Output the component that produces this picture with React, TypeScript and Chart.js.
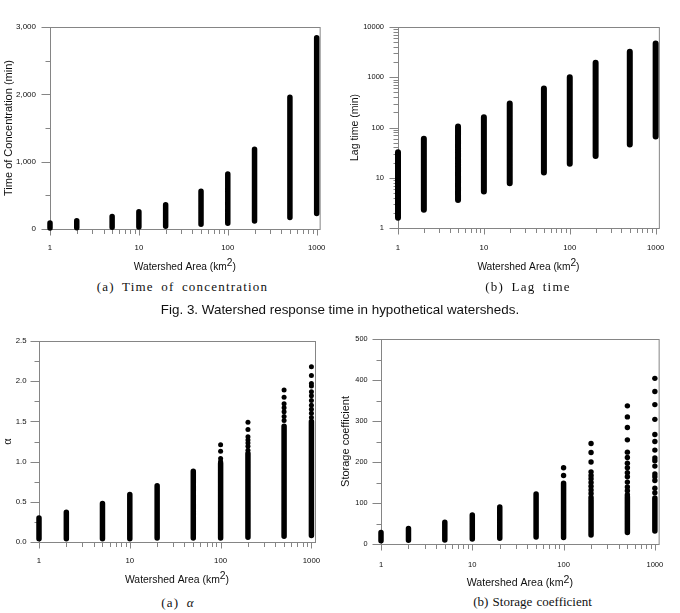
import React, { useEffect, useRef } from "react";
import { Chart, registerables } from "chart.js";

Chart.register(...registerables);

// Watershed areas (km²) of the hypothetical watersheds
const AREAS = [1, 2, 5, 10, 20, 50, 100, 200, 500, 1000];

// Log-scale tick marks on the area axis and the labelled subset
const AREA_TICKS = [1, 2, 3, 4, 5, 6, 7, 8, 9, 10, 20, 30, 40, 50, 60, 70, 80, 90, 100, 200, 300, 400, 500, 600, 700, 800, 900, 1000];
const AREA_LABELLED = [1, 10, 100, 1000];
const AREA_LABELS = ["1", "10", "100", "1000"];

// Time of concentration (min): lowest / highest value per area
const TC_LOW = [15, 20, 25, 30, 40, 70, 85, 120, 170, 230];
const TC_HIGH = [88, 122, 186, 255, 360, 560, 815, 1185, 1955, 2840];
const TC_TICKS = [0, 500, 1000, 1500, 2000, 2500, 3000];
const TC_LABELLED = [0, 1000, 2000, 3000];
const TC_LABELS = ["0", "1,000", "2,000", "3,000"];

// Lag time (min)
const LAG_LOW = [1.6, 2.3, 3.6, 5.3, 7.8, 12.7, 19, 27, 46, 66];
const LAG_HIGH = [32, 60, 105, 160, 300, 600, 1000, 1950, 3200, 4700];
const LAG_TICKS = [1, 2, 3, 4, 5, 6, 7, 8, 9, 10, 20, 30, 40, 50, 60, 70, 80, 90, 100, 200, 300, 400, 500, 600, 700, 800, 900, 1000, 2000, 3000, 4000, 5000, 6000, 7000, 8000, 9000, 10000];
const LAG_LABELLED = [1, 10, 100, 1000, 10000];
const LAG_LABELS = ["1", "10", "100", "1000", "10000"];

// α: dense band per area plus the scattered highest values
const ALPHA_LOW = [0.04, 0.04, 0.04, 0.04, 0.05, 0.05, 0.05, 0.06, 0.07, 0.08];
const ALPHA_HIGH = [0.3, 0.37, 0.48, 0.59, 0.7, 0.88, 0.98, 1.1, 1.44, 1.5];
const ALPHA_UPPER = [
  [], [], [], [], [], [],
  [1.21, 1.13, 1.04, 1.0],
  [1.49, 1.4, 1.31, 1.27, 1.23, 1.19, 1.14],
  [1.89, 1.8, 1.72, 1.67, 1.62, 1.56, 1.51],
  [2.18, 2.07, 1.97, 1.94, 1.87, 1.82, 1.76, 1.7, 1.65, 1.6, 1.55],
];
const ALPHA_TICKS = [0, 0.25, 0.5, 0.75, 1, 1.25, 1.5, 1.75, 2, 2.25, 2.5];
const ALPHA_LABELLED = [0, 0.5, 1, 1.5, 2, 2.5];
const ALPHA_LABELS = ["0.0", "0.5", "1.0", "1.5", "2.0", "2.5"];

// Storage coefficient
const STORAGE_LOW = [8, 9, 10, 12, 14, 17, 16, 22, 28, 32];
const STORAGE_HIGH = [28, 38, 53, 71, 90, 122, 148, 108, 115, 112];
const STORAGE_UPPER = [
  [], [], [], [], [], [],
  [186, 167],
  [245, 223, 200, 176, 167, 159, 150, 141, 132, 123, 114],
  [337, 310, 284, 254, 224, 211, 197, 186, 174, 164, 151, 139, 130, 120],
  [404, 372, 340, 304, 267, 250, 229, 210, 203, 190, 171, 164, 155, 136, 125],
];
const STORAGE_TICKS = [0, 50, 100, 150, 200, 250, 300, 350, 400, 450, 500];
const STORAGE_LABELLED = [0, 100, 200, 300, 400, 500];
const STORAGE_LABELS = ["0", "100", "200", "300", "400", "500"];

const X_TITLE = "Watershed Area (km";
const X_TITLE_SUP = "2";
const X_TITLE_END = ")";

const INK = "#000000";
const AXIS = "#858585";
const LABEL = "#0f0f0f";
const SANS = '"Liberation Sans", Arial, Helvetica, sans-serif';
const SERIF = '"Liberation Serif", "Times New Roman", serif';

type Area = { left: number; top: number; right: number; bottom: number };
type Panel = {
  id: string;
  left: number; top: number; width: number; height: number;
  area: Area;
  yType: "linear" | "logarithmic";
  yMin: number; yMax: number; xMax: number;
  yTicks: number[]; yLabelled: number[]; yLabels: string[];
  yTitle: string; yTitleFont: string; yTitleX: number;
  xTitleY: number; xTitleSize: number;
  yLabelPad: number; xLabelPad: number; yTickSize: number; xTickSize: number;
  low: number[]; high: number[]; upper: number[][] | null;
  bandWidth: number; dotRadius: number;
};

const PANELS: Panel[] = [
  {
    id: "tc", left: 0, top: 0, width: 340, height: 278,
    area: { left: 50, top: 27, right: 326, bottom: 229 },
    yType: "linear", yMin: 0, yMax: 3000, xMax: 1080,
    yTicks: TC_TICKS, yLabelled: TC_LABELLED, yLabels: TC_LABELS,
    yTitle: "Time of Concentration (min)", yTitleFont: `11px ${SANS}`, yTitleX: 8.5,
    xTitleY: 267, xTitleSize: 10.2,
    yLabelPad: 14, xLabelPad: 14.5, yTickSize: 8, xTickSize: 7.8,
    low: TC_LOW, high: TC_HIGH, upper: null, bandWidth: 5.5, dotRadius: 2.6,
  },
  {
    id: "lag", left: 340, top: 0, width: 340, height: 278,
    area: { left: 58, top: 27, right: 325, bottom: 228 },
    yType: "logarithmic", yMin: 1, yMax: 10000, xMax: 1090,
    yTicks: LAG_TICKS, yLabelled: LAG_LABELLED, yLabels: LAG_LABELS,
    yTitle: "Lag time (min)", yTitleFont: `10.5px ${SANS}`, yTitleX: 15,
    xTitleY: 267, xTitleSize: 10.2,
    yLabelPad: 14, xLabelPad: 15.5, yTickSize: 7.5, xTickSize: 7.8,
    low: LAG_LOW, high: LAG_HIGH, upper: null, bandWidth: 6, dotRadius: 2.6,
  },
  {
    id: "alpha", left: 0, top: 318, width: 340, height: 274,
    area: { left: 39, top: 23, right: 315, bottom: 224 },
    yType: "linear", yMin: 0, yMax: 2.5, xMax: 1095,
    yTicks: ALPHA_TICKS, yLabelled: ALPHA_LABELLED, yLabels: ALPHA_LABELS,
    yTitle: "α", yTitleFont: `12px ${SERIF}`, yTitleX: 8.3,
    xTitleY: 262, xTitleSize: 10.4,
    yLabelPad: 12.5, xLabelPad: 14, yTickSize: 7.8, xTickSize: 7.8,
    low: ALPHA_LOW, high: ALPHA_HIGH, upper: ALPHA_UPPER, bandWidth: 5.5, dotRadius: 2.5,
  },
  {
    id: "storage", left: 340, top: 318, width: 340, height: 274,
    area: { left: 41, top: 21, right: 326, bottom: 226 },
    yType: "linear", yMin: 0, yMax: 500, xMax: 1100,
    yTicks: STORAGE_TICKS, yLabelled: STORAGE_LABELLED, yLabels: STORAGE_LABELS,
    yTitle: "Storage coefficient", yTitleFont: `11px ${SANS}`, yTitleX: 5.5,
    xTitleY: 265.3, xTitleSize: 10.6,
    yLabelPad: 13.5, xLabelPad: 16.5, yTickSize: 7.3, xTickSize: 7.6,
    low: STORAGE_LOW, high: STORAGE_HIGH, upper: STORAGE_UPPER, bandWidth: 5.5, dotRadius: 2.7,
  },
];

type Caption = { text: string; italicTail?: string; cx: number; cy: number; font: string; size: number; letter: number; word: number };

const CAPTIONS: Caption[] = [
  { text: "(a) Time of concentration", cx: 182.5, cy: 287, font: SERIF, size: 13, letter: 1.2, word: 3 },
  { text: "(b) Lag time", cx: 528, cy: 287, font: SERIF, size: 13, letter: 1.2, word: 3 },
  { text: "Fig. 3. Watershed response time in hypothetical watersheds.", cx: 340, cy: 310, font: SANS, size: 13.4, letter: 0, word: 0 },
  { text: "(a) ", italicTail: "α", cx: 178, cy: 602.7, font: SERIF, size: 13, letter: 1.2, word: 3 },
  { text: "(b) Storage coefficient", cx: 532.5, cy: 601.7, font: SERIF, size: 13, letter: 0, word: 1 },
];

// Each band is a vertical segment from the lowest to the highest value at one area;
// a null point breaks the line between areas.
function bandPoints(low: number[], high: number[]) {
  const pts: { x: number; y: number | null }[] = [];
  AREAS.forEach((a, i) => {
    pts.push({ x: a, y: low[i] }, { x: a, y: high[i] }, { x: a, y: null });
  });
  return pts;
}

function upperPoints(upper: number[][] | null) {
  if (!upper) return [];
  return AREAS.flatMap((a, i) => upper[i].map((v) => ({ x: a, y: v })));
}

const labelFor = (values: number[], labels: string[]) => (v: number | string) => {
  const i = values.indexOf(Number(v));
  return i >= 0 ? labels[i] : "";
};

// Plot frame, outward tick marks and axis titles
const framePlugin = {
  id: "frame",
  beforeDatasetsDraw(chart: any, _args: any, opts: any) {
    const { ctx, chartArea: ca, scales } = chart;
    ctx.save();
    ctx.strokeStyle = AXIS;
    ctx.lineWidth = 1;
    ctx.strokeRect(ca.left + 0.5, ca.top + 0.5, ca.right - ca.left, ca.bottom - ca.top);

    ctx.beginPath();
    const xs = scales.x;
    for (const t of xs.ticks) {
      const px = Math.round(xs.getPixelForValue(t.value)) + 0.5;
      const len = t.label ? 6 : 4.5;
      ctx.moveTo(px, ca.bottom + 0.5);
      ctx.lineTo(px, ca.bottom + 0.5 + len);
    }
    const ys = scales.y;
    for (const t of ys.ticks) {
      const py = Math.round(ys.getPixelForValue(t.value)) + 0.5;
      const len = t.label ? 9 : 5;
      ctx.moveTo(ca.left + 0.5, py);
      ctx.lineTo(ca.left + 0.5 - len, py);
    }
    ctx.stroke();

    // x title with raised exponent
    ctx.fillStyle = LABEL;
    ctx.textBaseline = "middle";
    ctx.textAlign = "left";
    ctx.font = `${opts.xTitleSize}px ${SANS}`;
    const w1 = ctx.measureText(X_TITLE).width;
    const w2 = ctx.measureText(X_TITLE_SUP).width;
    const w3 = ctx.measureText(X_TITLE_END).width;
    let x = (ca.left + ca.right) / 2 - (w1 + w2 + w3) / 2;
    const y = opts.xTitleY;
    ctx.fillText(X_TITLE, x, y);
    x += w1;
    ctx.fillText(X_TITLE_SUP, x, y - 3.5);
    x += w2;
    ctx.fillText(X_TITLE_END, x, y);

    // rotated y title
    ctx.save();
    ctx.translate(opts.yTitleX, (ca.top + ca.bottom) / 2);
    ctx.rotate(-Math.PI / 2);
    ctx.textAlign = "center";
    ctx.font = opts.yTitleFont;
    ctx.fillText(opts.yTitle, 0, 0);
    ctx.restore();
    ctx.restore();
  },
};

function buildConfig(p: Panel): any {
  const xHeight = p.height - p.area.bottom;
  const yWidth = p.area.left;
  return {
    type: "scatter",
    data: {
      datasets: [
        {
          type: "line",
          data: bandPoints(p.low, p.high),
          borderColor: INK,
          borderWidth: p.bandWidth,
          borderCapStyle: "round",
          pointRadius: 0,
          pointHoverRadius: 0,
          showLine: true,
          spanGaps: false,
          tension: 0,
          fill: false,
          clip: false,
        },
        {
          type: "scatter",
          data: upperPoints(p.upper),
          pointRadius: p.dotRadius,
          pointBackgroundColor: INK,
          pointBorderColor: INK,
          pointBorderWidth: 0,
          clip: false,
        },
      ],
    },
    options: {
      responsive: false,
      animation: false,
      devicePixelRatio: 1,
      events: [],
      layout: { padding: { top: p.area.top, right: p.width - p.area.right, left: 0, bottom: 0 } },
      plugins: {
        legend: { display: false },
        tooltip: { enabled: false },
        frame: {
          xTitleY: p.xTitleY,
          xTitleSize: p.xTitleSize,
          yTitle: p.yTitle,
          yTitleFont: p.yTitleFont,
          yTitleX: p.yTitleX,
        },
      },
      scales: {
        x: {
          type: "logarithmic",
          position: "bottom",
          min: 1,
          max: p.xMax,
          afterBuildTicks: (s: any) => {
            s.ticks = AREA_TICKS.map((v) => ({ value: v }));
          },
          afterFit: (s: any) => {
            s.height = xHeight;
          },
          grid: { display: false, drawTicks: false, drawOnChartArea: false },
          border: { display: false },
          title: { display: false },
          ticks: {
            autoSkip: false,
            maxRotation: 0,
            minRotation: 0,
            padding: p.xLabelPad,
            color: LABEL,
            font: { family: SANS, size: p.xTickSize },
            callback: labelFor(AREA_LABELLED, AREA_LABELS),
          },
        },
        y: {
          type: p.yType,
          position: "left",
          min: p.yMin,
          max: p.yMax,
          afterBuildTicks: (s: any) => {
            s.ticks = p.yTicks.map((v) => ({ value: v }));
          },
          afterFit: (s: any) => {
            s.width = yWidth;
          },
          grid: { display: false, drawTicks: false, drawOnChartArea: false },
          border: { display: false },
          title: { display: false },
          ticks: {
            autoSkip: false,
            padding: p.yLabelPad,
            color: LABEL,
            font: { family: SANS, size: p.yTickSize },
            callback: labelFor(p.yLabelled, p.yLabels),
          },
        },
      },
    },
    plugins: [framePlugin],
  };
}

function PanelChart({ p }: { p: Panel }) {
  const ref = useRef<HTMLCanvasElement>(null);
  useEffect(() => {
    const canvas = ref.current;
    if (!canvas) return;
    const chart = new Chart(canvas, buildConfig(p));
    return () => chart.destroy();
  }, [p]);
  return (
    <canvas
      ref={ref}
      width={p.width}
      height={p.height}
      style={{ position: "absolute", left: p.left, top: p.top, width: p.width, height: p.height }}
    />
  );
}

function CaptionText({ c }: { c: Caption }) {
  return (
    <div
      style={{
        position: "absolute",
        left: c.cx - 200,
        width: 400,
        top: c.cy - 9,
        height: 18,
        lineHeight: "18px",
        textAlign: "center",
        whiteSpace: "pre",
        fontFamily: c.font,
        fontSize: c.size,
        letterSpacing: c.letter,
        wordSpacing: c.word,
        color: "#111",
      }}
    >
      {c.text}
      {c.italicTail ? <i>{c.italicTail}</i> : null}
    </div>
  );
}

export default function App() {
  return (
    <div style={{ position: "absolute", left: 0, top: 0, width: 680, height: 613, background: "#fff", overflow: "hidden" }}>
      {PANELS.map((p) => (
        <PanelChart key={p.id} p={p} />
      ))}
      {CAPTIONS.map((c, i) => (
        <CaptionText key={i} c={c} />
      ))}
    </div>
  );
}
